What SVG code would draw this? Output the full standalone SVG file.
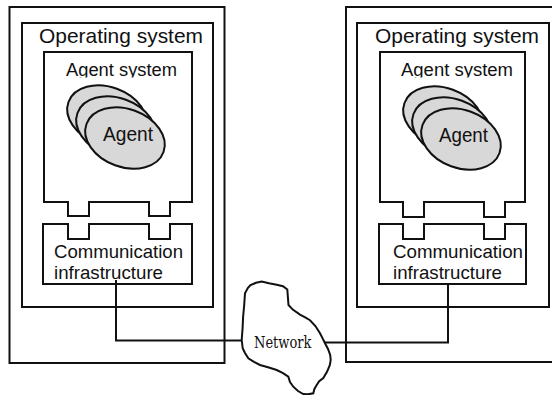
<svg xmlns="http://www.w3.org/2000/svg" width="552" height="395" viewBox="0 0 552 395">
  <style>
    .box { fill: none; stroke: #111; stroke-width: 2; stroke-linejoin: miter; }
    .wire { fill: none; stroke: #111; stroke-width: 2; }
    .agent { fill: #d8d8d8; stroke: #111; stroke-width: 2; }
    .sans { font-family: "Liberation Sans", Arial, Helvetica, sans-serif; fill: #111; }
    .serif { font-family: "DejaVu Serif", "Liberation Serif", serif; fill: #111; }
  </style>
  <defs>
    <!-- descender strip of the "Agent system" captions is cut off -->
    <clipPath id="capClip">
      <rect x="0" y="0" width="552" height="77.5"/>
    </clipPath>
  </defs>
  <rect width="552" height="395" fill="#ffffff"/>

  <!-- Left host -->
  <g id="host-left">
    <rect class="box" x="9.5" y="7" width="215" height="356"/>
  </g>
  <g id="os-left">
    <rect class="box" x="22" y="23" width="191" height="284"/>
    <text class="sans" x="39" y="43" font-size="21" textLength="164" lengthAdjust="spacingAndGlyphs">Operating system</text>
  </g>
  <g id="agent-system-left">
    <path class="box" d="M44,52 H192 V202 H170 V216 H149 V202 H89 V216 H68 V202 H44 Z"/>
    <text class="sans" x="66" y="76" font-size="18.3" textLength="111" lengthAdjust="spacingAndGlyphs" clip-path="url(#capClip)">Agent system</text>
  </g>
  <g id="agents-left">
    <ellipse class="agent" cx="107" cy="116" rx="41" ry="29" transform="rotate(20 107 116)"/>
    <ellipse class="agent" cx="116" cy="127" rx="41" ry="29" transform="rotate(20 116 127)"/>
    <ellipse class="agent" cx="125" cy="138" rx="41" ry="29" transform="rotate(20 125 138)"/>
    <text class="sans" x="103" y="140.5" font-size="19.5" textLength="50" lengthAdjust="spacingAndGlyphs">Agent</text>
  </g>
  <g id="comm-left">
    <path class="box" d="M43,224 H68 V239 H89 V224 H149 V239 H170 V224 H192 V284 H43 Z"/>
    <text class="sans" x="54" y="258" font-size="18.5" textLength="129" lengthAdjust="spacingAndGlyphs">Communication</text>
    <text class="sans" x="54" y="279" font-size="18.5" textLength="109" lengthAdjust="spacingAndGlyphs">infrastructure</text>
  </g>

  <!-- Right host -->
  <g id="host-right">
    <path class="box" d="M560,7 H346 V362 H560"/>
  </g>
  <g id="os-right">
    <rect class="box" x="357" y="23" width="192" height="284"/>
    <text class="sans" x="375" y="43" font-size="21" textLength="164" lengthAdjust="spacingAndGlyphs">Operating system</text>
  </g>
  <g id="agent-system-right">
    <path class="box" d="M380,52 H525 V202 H505 V217 H484 V202 H424 V217 H403 V202 H380 Z"/>
    <text class="sans" x="401" y="76" font-size="18.3" textLength="112" lengthAdjust="spacingAndGlyphs" clip-path="url(#capClip)">Agent system</text>
  </g>
  <g id="agents-right">
    <ellipse class="agent" cx="443" cy="117" rx="41" ry="29" transform="rotate(20 443 117)"/>
    <ellipse class="agent" cx="452" cy="128" rx="41" ry="29" transform="rotate(20 452 128)"/>
    <ellipse class="agent" cx="461" cy="139" rx="41" ry="29" transform="rotate(20 461 139)"/>
    <text class="sans" x="439" y="141.5" font-size="19.5" textLength="49" lengthAdjust="spacingAndGlyphs">Agent</text>
  </g>
  <g id="comm-right">
    <path class="box" d="M379,224 H403 V239 H424 V224 H484 V239 H505 V224 H526 V284 H379 Z"/>
    <text class="sans" x="393" y="258" font-size="18.5" textLength="130" lengthAdjust="spacingAndGlyphs">Communication</text>
    <text class="sans" x="393" y="279" font-size="18.5" textLength="109" lengthAdjust="spacingAndGlyphs">infrastructure</text>
  </g>

  <!-- Network cloud -->
  <g id="network">
    <path class="box" stroke-linejoin="round" d="M241.7,340 L242.6,328 L243.1,317 L244.2,305 L245,293.3 L247.8,288 L250.5,285 L256,282.8 L261.7,281.5 L269,283.2 L276.7,284.8 L283,286.2 L287.3,289.5 L287.8,296 L288.5,305 L292.8,309.6 L300,314.6 L305.2,317.3 L310,320.2 L315.4,326 L320,333.3 L322.6,338.4 L325,343.3 L328,349 L330.2,355 L330.7,360 L329.8,365.2 L327,371.8 L323.3,378 L319.2,381.2 L316.7,385 L314.4,389 L313.3,393.3 L308,394.3 L303.3,394 L298,391 L293.3,386.7 L290,382 L288.3,376.7 L283,373.2 L276.7,370 L268,367.2 L260,365 L254,361.8 L248.3,358.3 L245,353 L242.7,348.3 Z"/>
    <text class="serif" x="254" y="347.5" font-size="17.5" textLength="57.5" lengthAdjust="spacingAndGlyphs">Network</text>
  </g>

  <!-- Links from each communication infrastructure to the network -->
  <g id="connectors">
    <polyline class="wire" points="116,280 116,340.5 241.7,340.5"/>
    <polyline class="wire" points="324.5,342.5 448,342.5 448,284"/>
  </g>
</svg>
